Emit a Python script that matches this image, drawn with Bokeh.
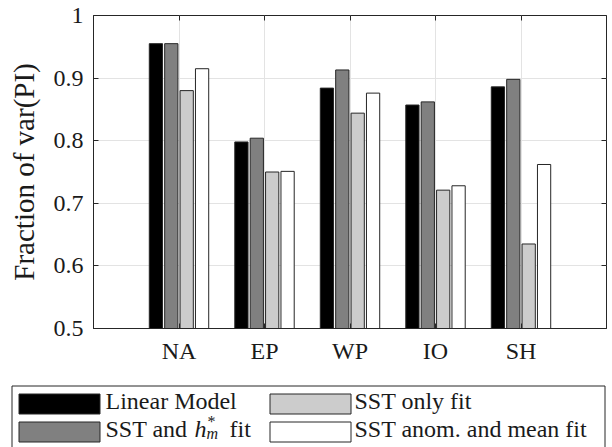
from bokeh.plotting import figure
from bokeh.models import (FactorRange, Range1d, FixedTicker, LinearAxis, CategoricalAxis,
                          ColumnDataSource, CustomJSTickFormatter)
from bokeh.transform import dodge
from bokeh.layouts import column, row
from bokeh.core.properties import value
from bokeh.embed import file_html
from bokeh.resources import INLINE

# ---------------- data ----------------
regions = ["NA", "EP", "WP", "IO", "SH"]
linear_model = [0.955, 0.798, 0.884, 0.857, 0.886]
sst_hm_fit = [0.955, 0.804, 0.913, 0.862, 0.898]
sst_only_fit = [0.880, 0.750, 0.844, 0.721, 0.635]
sst_anom_mean_fit = [0.915, 0.751, 0.876, 0.728, 0.762]

series_keys = ["lm", "hm", "sst", "anom"]
series_colors = ["#000000", "#808080", "#cccccc", "#ffffff"]
y_ticks = [0.5, 0.6, 0.7, 0.8, 0.9, 1.0]
y_tick_labels = ["0.5", "0.6", "0.7", "0.8", "0.9", "1"]
y_label = "Fraction of var(PI)"
legend_plain = ["Linear Model", None, "SST only fit", "SST anom. and mean fit"]

FONT = "Liberation Serif"
DARK = "#262626"
TXT = "#1a1a1a"
GRID = "#e3e3e3"

# ---------------- geometry (page pixels) ----------------
W = 612
MAIN_H = 380
LEG_H = 447 - MAIN_H
FL, FR, FT, FB = 93, 606, 15, 328

source = ColumnDataSource(dict(region=regions, lm=linear_model, hm=sst_hm_fit,
                               sst=sst_only_fit, anom=sst_anom_mean_fit))

p = figure(x_range=FactorRange(*regions, range_padding=0.2), y_range=Range1d(0.5, 1.0),
           width=W, height=MAIN_H, min_border_left=FL, min_border_right=W - FR,
           min_border_top=FT, min_border_bottom=MAIN_H - FB,
           output_backend="svg", toolbar_location=None)

offsets = [-0.27, -0.09, 0.09, 0.27]
for key, col, off in zip(series_keys, series_colors, offsets):
    p.vbar(x=dodge("region", off, range=p.x_range), top=key, bottom=0.5, width=0.155,
           source=source, fill_color=col, line_color=DARK, line_width=1)

p.background_fill_color = "white"
p.border_fill_color = "white"
p.outline_line_color = DARK
p.outline_line_width = 1

p.yaxis.ticker = FixedTicker(ticks=y_ticks)
p.yaxis.major_label_overrides = {t: l for t, l in zip(y_ticks, y_tick_labels)}
p.yaxis.axis_label = y_label

for ax in [p.xaxis[0], p.yaxis[0]]:
    ax.axis_line_color = DARK
    ax.major_tick_line_color = DARK
    ax.major_tick_in = 5
    ax.major_tick_out = 0
    ax.minor_tick_line_color = None
    ax.major_label_text_font = FONT
    ax.major_label_text_font_size = "24px"
    ax.major_label_text_color = TXT
    ax.axis_label_text_font = FONT
    ax.axis_label_text_font_size = "29px"
    ax.axis_label_text_font_style = "normal"
    ax.axis_label_text_color = TXT

p.xaxis.major_label_standoff = 9
p.yaxis.major_label_standoff = 10
p.yaxis.axis_label_standoff = 11

blank = CustomJSTickFormatter(code="return ''")
right_axis = LinearAxis(ticker=FixedTicker(ticks=y_ticks), formatter=blank,
                        major_label_text_font_size="1px", major_label_standoff=0,
                        axis_line_color=None, major_tick_in=5, major_tick_out=0,
                        minor_tick_line_color=None, major_tick_line_color=DARK)
p.add_layout(right_axis, "right")
top_axis = CategoricalAxis(formatter=blank, major_label_text_font_size="1px",
                           major_label_standoff=0, axis_line_color=None,
                           major_tick_in=5, major_tick_out=0, major_tick_line_color=DARK)
p.add_layout(top_axis, "above")

p.xgrid.grid_line_color = GRID
p.ygrid.grid_line_color = GRID
p.ygrid.ticker = FixedTicker(ticks=y_ticks)

# ---------------- legend panel (pixel coordinates, y downward) ----------------
leg = figure(width=W, height=LEG_H, x_range=Range1d(0, W), y_range=Range1d(LEG_H, 0),
             min_border=0, x_axis_location=None, y_axis_location=None,
             output_backend="svg", toolbar_location=None)
leg.grid.visible = False
leg.outline_line_color = None
leg.background_fill_color = "white"
leg.border_fill_color = "white"

Y0 = MAIN_H  # page y of the legend panel's top


def ly(y):
    return y - Y0


leg.quad(left=[11.5], right=[604.5], top=[ly(385.5)], bottom=[ly(480)],
         fill_color=None, line_color=DARK, line_width=1)

sw_left = [18, 18, 269, 269]
sw_top = [393, 421, 393, 421]
sw_w, sw_h = 81, 20
leg.quad(left=[l + 0.5 for l in sw_left], right=[l + sw_w + 0.5 for l in sw_left],
         top=[ly(t + 0.5) for t in sw_top], bottom=[ly(t + sw_h + 0.5) for t in sw_top],
         fill_color=series_colors, line_color=DARK, line_width=1)

txt_x = [105, 105, 354, 354]
baselines = [400.5, 428.5, 400.5, 428.5]
common = dict(text_font=value(FONT), text_baseline="alphabetic", text_align="left",
              text_color=TXT)
for i, t in enumerate(legend_plain):
    if t is not None:
        leg.text(x=[txt_x[i]], y=[ly(baselines[i])], text=[t], text_font_size="24px", **common)

# "SST and h_m^* fit"
yb = baselines[1]
leg.text(x=[txt_x[1]], y=[ly(yb)], text=["SST and"], text_font_size="24px", **common)
leg.text(x=[194], y=[ly(yb)], text=["h"], text_font_size="24px", text_font_style="italic", **common)
leg.text(x=[207], y=[ly(yb - 8)], text=["*"], text_font_size="16px", **common)
leg.text(x=[206], y=[ly(yb + 4)], text=["m"], text_font_size="16px", text_font_style="italic", **common)
leg.text(x=[229], y=[ly(yb)], text=["fit"], text_font_size="24px", **common)

layout = column(p, row(leg), spacing=0)
open("out.html", "w").write(file_html(layout, INLINE))
